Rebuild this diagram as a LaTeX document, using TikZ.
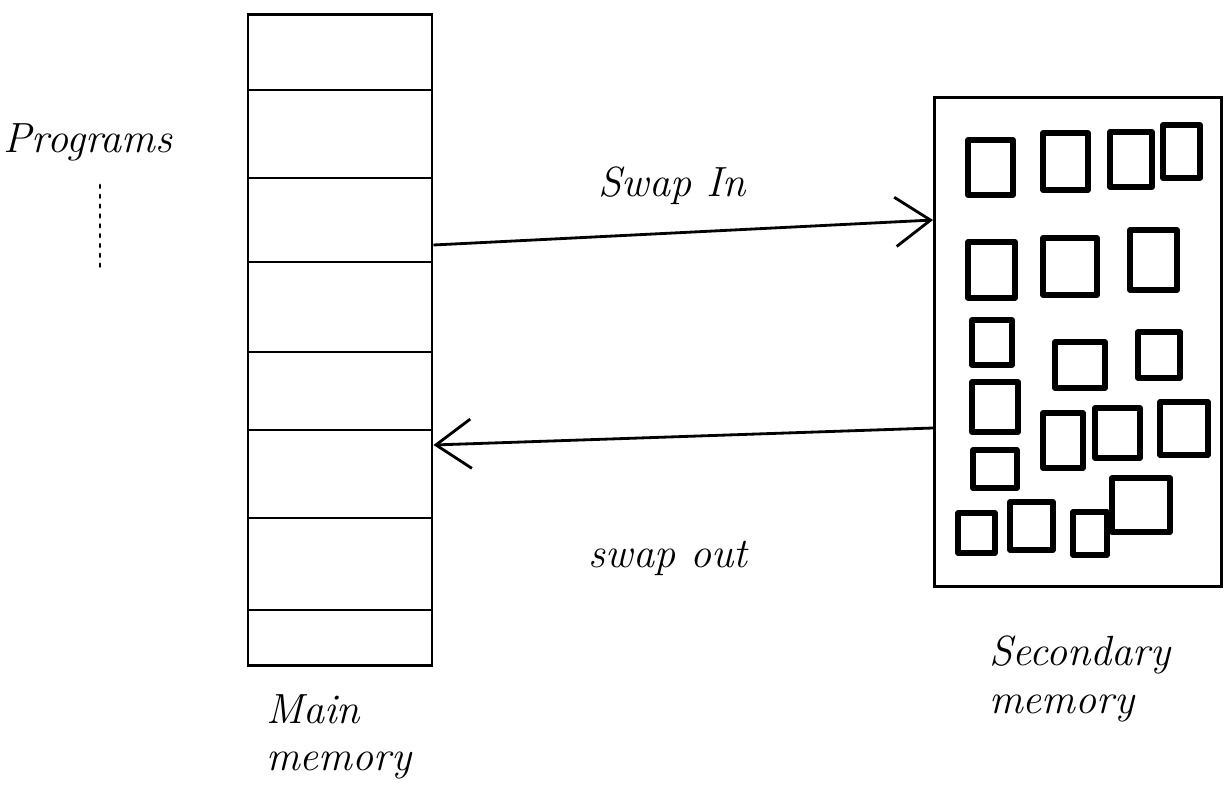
\documentclass[tikz,border=0pt]{standalone}
\usetikzlibrary{positioning,arrows.meta}

\tikzset{
  memline/.style={color=black, thick},
  block/.style={draw=black, line width=1.5pt, line join=round},
  swaparrow/.style={color=black, thick, -{Straight Barb[length=10pt,width=14pt]}},
  hand/.style={font=\fontsize{12}{13.5}\selectfont\itshape, inner sep=1pt},
}

\begin{document}
\begin{tikzpicture}[x=0.01cm, y=-0.01cm]
\useasboundingbox (0,0) rectangle (1224,809);

% main memory
\node[draw, thick, minimum width=1.84cm, minimum height=6.5cm, inner sep=0] (mainmem) at (340,340) {};
\foreach \y in {90,178,262,352,430,518,610}
  \draw[memline] (mainmem.west |- 0,\y) -- (mainmem.east |- 0,\y);

% secondary memory
\node[draw, thick, minimum width=2.87cm, minimum height=4.88cm, inner sep=0] (secmem) at (1078,342) {};
\foreach \a/\b/\c/\d in {968/140/1013/195, 1043/133/1088/190, 1110/132/1152/187, 1163/125/1200/178,
  968/242/1015/298, 1043/238/1097/295, 1130/230/1177/290,
  972/320/1012/365, 1055/342/1105/388, 1138/332/1180/378,
  972/382/1018/432, 1043/413/1083/468, 1095/408/1140/458, 1160/402/1208/455,
  973/450/1017/488, 1112/478/1170/532,
  958/513/995/553, 1010/502/1053/550, 1073/512/1107/555}
  \draw[block] (\a,\b) rectangle (\c,\d);

% swapping
\coordinate (inA) at (mainmem.east |- 0,245);
\coordinate (inB) at (secmem.west |- 0,220);
\coordinate (outA) at (secmem.west |- 0,428);
\coordinate (outB) at (mainmem.east |- 0,445);
\draw[swaparrow] (inA) -- (inB);
\draw[swaparrow] (outA) -- (outB);

\node[hand] (swapin) at (672,186) {Swap In};
\node[hand] (swapout) at (668,558) {swap out};

% labels
\node[hand] (progs) at (88,142) {Programs};
\draw[thick, dotted, line cap=round] (100,185) -- (100,270);
\node[hand, align=left, anchor=north west] (mainlbl) at (262,690) {Main\\memory};
\node[hand, align=left, anchor=north west] (seclbl) at (985,632) {Secondary\\memory};

\end{tikzpicture}
\end{document}
